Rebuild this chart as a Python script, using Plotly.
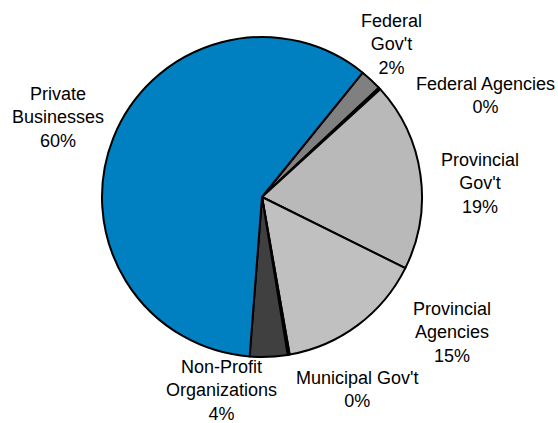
import plotly.graph_objects as go

# ---- data ----
categories = ["Federal<br>Gov't", "Federal Agencies", "Provincial<br>Gov't",
              "Provincial<br>Agencies", "Municipal Gov't",
              "Non-Profit<br>Organizations", "Private<br>Businesses"]
shares = [2.2, 0.2, 19.1, 14.9, 0.2, 3.8, 59.6]

# ---- styling ----
colors = ["#808080", "#969696", "#bcbcbc", "#c0c0c0", "#e0e0e0", "#404040", "#0080c0"]
pattern_shapes = ["", "", ".", "", "", "", ""]

W, H = 558, 423
cx, cy, r = 262, 197, 160

fig = go.Figure(go.Pie(
    labels=categories,
    values=shares,
    sort=False,
    direction="clockwise",
    rotation=39,
    textinfo="none",
    hoverinfo="label+percent",
    marker=dict(colors=colors,
                line=dict(color="black", width=2),
                pattern=dict(shape=pattern_shapes, fgcolor="#999999",
                             bgcolor="#d2d2d2", size=2, solidity=0.5,
                             fillmode="replace")),
    domain=dict(x=[(cx - r) / W, (cx + r) / W],
                y=[(H - cy - r) / H, (H - cy + r) / H]),
    showlegend=False,
))

# label anchor points (pixels from top-left)
label_pos = [(391, 44), (485, 95), (480, 184), (452, 332), (357, 389), (221, 390), (58, 117)]

annotations = []
for lab, v, (px, py) in zip(categories, shares, label_pos):
    annotations.append(dict(
        x=px / W, y=1 - py / H, xref="paper", yref="paper",
        text=f"{lab}<br>{round(v)}%", showarrow=False, align="center",
        xanchor="center", yanchor="middle",
        font=dict(family="Liberation Sans, Arial, sans-serif", size=18, color="black"),
    ))

fig.update_layout(
    width=W, height=H,
    margin=dict(l=0, r=0, t=0, b=0),
    paper_bgcolor="white", plot_bgcolor="white",
    annotations=annotations,
)

fig.write_html("out.html", config={"displayModeBar": False},
               post_script="document.body.style.margin='0';")
